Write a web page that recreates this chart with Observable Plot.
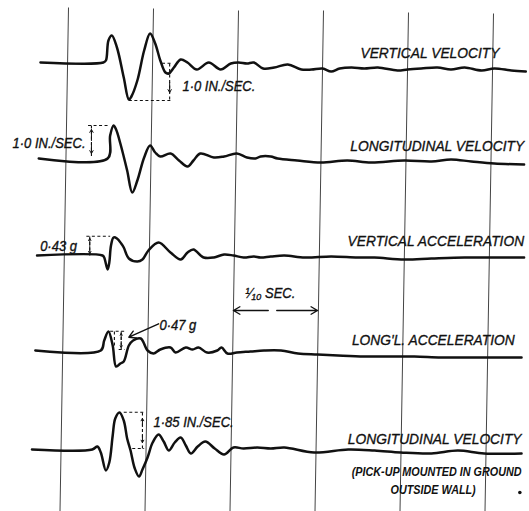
<!DOCTYPE html>
<html><head><meta charset="utf-8">
<script src="https://cdn.jsdelivr.net/npm/d3@7"></script>
<script src="https://cdn.jsdelivr.net/npm/@observablehq/plot@0.6"></script>
<style>body{margin:0;background:#fff}</style>
</head><body><div id="chart"></div>
<script>
// time axis in milliseconds (gridlines every 1/10 sec), deflection in record units (up = positive)
const gridTimes = [0, 100, 200, 300, 400, 500];
const baselines = [62, 158, 255, 350, 449];
const traceNames = ["VERTICAL VELOCITY", "LONGITUDINAL VELOCITY", "VERTICAL ACCELERATION", "LONG'L. ACCELERATION", "LONGITUDINAL VELOCITY"];

const verticalVelocity = [[-33,0],[41,0],[44,2],[47,22],[51,27],[57,15],[65,-15],[71,-37],[74,-34],[81,-18],[89,12],[96,29],[102,19],[108,2],[114,-10],[118,-11],[124,-5],[132,3],[140,0],[151,-7],[165,0],[179,-7],[191,-1],[200,0],[210,-1],[218,0],[229,-6],[242,-5],[258,-2],[274,-7],[286,-7],[299,-6],[309,-9],[319,-6],[333,-5],[348,-6],[364,-5],[387,-8],[399,-7],[415,-6],[434,-5],[450,-7],[466,-5],[486,-8],[501,-6],[521,-8],[538,-9]];
const longitudinalVelocity = [[-35,0],[46,0],[49,23],[53,33],[56,29],[61,15],[69,-12],[75,-34],[81,-22],[89,1],[96,13],[102,6],[108,2],[120,5],[130,-2],[140,-8],[147,-2],[155,5],[171,1],[183,2],[198,5],[210,1],[220,0],[226,2],[238,2],[246,0],[269,-2],[297,-4],[328,-2],[356,-4],[395,-2],[427,-3],[450,-1],[474,-3],[501,-5],[536,-6]];
const verticalAcceleration = [[-37,0],[40,0],[42,-2],[46,-14],[48,-7],[50,10],[53,18],[57,17],[62,12],[65,8],[71,-3],[81,-6],[87,-4],[94,5],[106,13],[120,3],[132,-4],[140,3],[147,6],[159,-2],[171,-2],[183,1],[194,0],[206,-2],[218,-1],[226,-2],[238,-1],[254,0],[278,-2],[309,-1],[340,-2],[360,-2],[395,-4],[427,-3],[466,-2],[497,-2],[536,-2]];
const longAcceleration = [[-39,0],[38,0],[42,10],[47,19],[52,5],[56,-16],[61,-13],[65,-11],[71,5],[76,10],[85,12],[93,0],[100,-3],[108,1],[120,3],[126,-2],[138,3],[146,1],[153,3],[163,-2],[175,0],[180,3],[187,-3],[198,-2],[214,-1],[230,0],[250,0],[270,-3],[293,-4],[317,-5],[348,-6],[380,-6],[407,-6],[438,-7],[466,-7],[497,-7],[533,-7]];
const longVelocityGround = [[-43,0],[28,0],[34,3],[38,-3],[44,-21],[48,-13],[52,14],[55,31],[60,37],[65,29],[69,11],[73,-1],[78,-19],[83,-27],[87,-20],[93,-8],[99,7],[106,15],[112,8],[118,-1],[125,7],[132,12],[138,4],[144,-4],[152,3],[161,8],[172,1],[183,-5],[194,2],[206,1],[222,2],[238,1],[254,2],[289,-3],[329,0],[360,-1],[391,-3],[427,-4],[458,-1],[489,-4],[533,-4]];

const traces = [verticalVelocity, longitudinalVelocity, verticalAcceleration, longAcceleration, longVelocityGround];
const traceRows = traces.flatMap((tr, i) => tr.map(([t, d]) => ({trace: i, t, y: baselines[i] - d})));

// gridline layout (record is slightly skewed)
const gridTop = [7, 8, 10, 10, 12, 13];
const gridRows = gridTimes.map((t, i) => ({t1: t, y1: gridTop[i], t2: t - 10, y2: 511}));

// amplitude calibration marks
const dashed = [
  [71,100,120,100],[110,62.7,120,62.7],[119,63,119,100],
  [23,125,48,125],[27,125,27,158],
  [21,235.7,49,235.7],[25,236,25,255],
  [49,330.7,66,330.7],[54,331,54,346],[59,349,66,349],[62,331,62,349],
  [65,411.7,89,411.7],[75,448,89,448],[87,412,87,448]
].map(([t1,y1,t2,y2]) => ({t1,y1,t2,y2}));
const smallArrows = [
  [119,82,119,92],
  [27,140,27,129],[27,143,27,153],
  [25,245,25,238],[25,246,25,253],
  [62,339,62,333],[62,341,62,347],
  [87,426,87,418],[87,434,87,442]
].map(([t1,y1,t2,y2]) => ({t1,y1,t2,y2}));
const bigArrows = [[106,323.3,71,336.7],[235,310,194,310],[245,310,293,310]].map(([t1,y1,t2,y2]) => ({t1,y1,t2,y2}));

const labelEnds = [507, 536, 536, 525, 533];
const labelYs = [53, 146, 240.7, 340, 438.3];
const labels = traceNames.map((s, i) => ({s, t: labelEnds[i], y: labelYs[i]}));

const notesStart = [
  {s: "1·0 IN./SEC.", t: 134, y: 86},
  {s: "0·47 g", t: 107, y: 325},
  {s: "1·85 IN./SEC.", t: 100, y: 421.7},
  {s: "¹⁄₁₀ SEC.", t: 208, y: 293}
];
const notesEnd = [
  {s: "1·0 IN./SEC.", t: 20, y: 143.5},
  {s: "0·43 g", t: 10, y: 246}
];
const footnoteEnd = [{s: "(PICK-UP MOUNTED IN GROUND", t: 533, y: 471.7}];
const footnoteMid = [{s: "OUTSIDE WALL)", t: 429, y: 490}];
const specks = [{t: 531, y: 492}];

const font = "'Liberation Sans', 'DejaVu Sans', sans-serif";
const txt = {x: "t", y: "y", text: "s", fontFamily: font, fontStyle: "italic", fill: "#111", stroke: "#111", strokeWidth: 0.35};

const chart = Plot.plot({
  width: 529, height: 511, margin: 0,
  style: {background: "#fff"},
  x: {domain: [0, 500], range: [68, 493], axis: null},
  y: {domain: [0, 511], range: [0, 511], axis: null},
  marks: [
    Plot.link(gridRows, {x1: "t1", y1: "y1", x2: "t2", y2: "y2", stroke: "#444", strokeWidth: 1}),
    Plot.link(dashed, {x1: "t1", y1: "y1", x2: "t2", y2: "y2", stroke: "#111", strokeWidth: 1.1, strokeDasharray: "3,2.5"}),
    Plot.arrow(smallArrows, {x1: "t1", y1: "y1", x2: "t2", y2: "y2", stroke: "#111", strokeWidth: 1, headLength: 5, insetEnd: 0, insetStart: 0}),
    Plot.arrow(bigArrows, {x1: "t1", y1: "y1", x2: "t2", y2: "y2", stroke: "#111", strokeWidth: 1.4, headLength: 8, insetEnd: 0, insetStart: 0}),
    Plot.line(traceRows, {x: "t", y: "y", z: "trace", curve: "catmull-rom", stroke: "#111", strokeWidth: 2.5, strokeLinejoin: "round"}),
    Plot.text(labels, {...txt, textAnchor: "end", fontSize: 15}),
    Plot.text(notesStart, {...txt, textAnchor: "start", fontSize: 14}),
    Plot.text(notesEnd, {...txt, textAnchor: "end", fontSize: 14}),
    Plot.text(footnoteEnd, {...txt, textAnchor: "end", fontWeight: "bold", fontSize: 12, strokeWidth: 0}),
    Plot.text(footnoteMid, {...txt, textAnchor: "middle", fontWeight: "bold", fontSize: 12, strokeWidth: 0}),
    Plot.dot(specks, {x: "t", y: "y", r: 1.8, fill: "#111"})
  ]
});
// condense the hand-lettered captions horizontally
const squeeze = [0.92, 0.93, 0.93, 0.9, 0.9];
chart.querySelectorAll('g[aria-label="text"]').forEach((g, i) => {
  g.querySelectorAll("text").forEach(t => {
    const tr = t.getAttribute("transform");
    if (tr) t.setAttribute("transform", tr + ` scale(${squeeze[i]},1)`);
  });
});
document.getElementById("chart").appendChild(chart);
</script>
</body></html>
